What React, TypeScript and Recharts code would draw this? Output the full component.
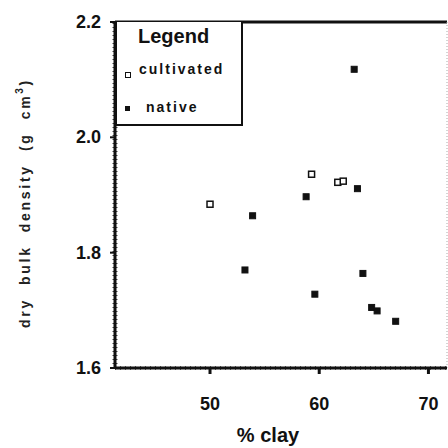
import { ScatterChart, Scatter, XAxis, YAxis, ReferenceLine } from "recharts";

const clayTicks = [50, 60, 70];
const densityTicks = [1.6, 1.8, 2.0, 2.2];

const cultivatedClay = [59.3, 61.7, 62.2, 50.0];
const cultivatedDensity = [1.936, 1.922, 1.924, 1.884];

const nativeClay = [63.2, 63.5, 58.8, 53.9, 53.2, 64.0, 59.6, 64.8, 65.3, 67.0];
const nativeDensity = [2.118, 1.911, 1.897, 1.864, 1.77, 1.764, 1.728, 1.705, 1.699, 1.681];

const cultivated = cultivatedClay.map((c, i) => ({ clay: c, density: cultivatedDensity[i] }));
const native = nativeClay.map((c, i) => ({ clay: c, density: nativeDensity[i] }));

const font = "'Liberation Sans', Arial, sans-serif";

const OpenSquare = (p: any) => (
  <rect x={p.cx - 3} y={p.cy - 3} width={6} height={6} fill="#fff" stroke="#111" strokeWidth={1.5} />
);
const FilledSquare = (p: any) => (
  <rect x={p.cx - 3} y={p.cy - 3} width={6} height={6} fill="#111" stroke="#111" strokeWidth={1} />
);

const XTick = (p: any) => (
  <text x={p.x} y={p.y + 34} textAnchor="middle" fontFamily={font} fontWeight="bold" fontSize={18} fill="#111">
    {p.payload.value}
  </text>
);
const YTick = (p: any) => (
  <text x={101} y={p.y + 6} textAnchor="end" fontFamily={font} fontWeight="bold" fontSize={18} fill="#111">
    {p.payload.value.toFixed(1)}
  </text>
);

// axis title reads bottom to top, widely spaced like the scan
const YLabel = () => (
  <text
    transform="translate(30,203) rotate(-90)"
    textAnchor="middle"
    fontFamily={font}
    fontWeight="bold"
    fontSize={14}
    letterSpacing={2.7}
    fill="#222"
    style={{ whiteSpace: "pre" }}
  >
    {"dry  bulk  density  (g  cm"}
    <tspan fontSize={10} dy={-7}>3</tspan>
    <tspan dy={7}>)</tspan>
  </text>
);

export default function App() {
  return (
    <div style={{ position: "absolute", left: 0, top: 0, width: 448, height: 448, background: "#fff" }}>
      <ScatterChart width={448} height={448} margin={{ top: 22, right: 1, bottom: 0, left: 0 }}>
        <XAxis
          type="number"
          dataKey="clay"
          domain={[41.3, 71.7]}
          ticks={clayTicks}
          height={80}
          axisLine={{ stroke: "#111", strokeWidth: 3 }}
          tickLine={{ stroke: "#111", strokeWidth: 3 }}
          tickSize={6}
          tick={<XTick />}
          label={{ value: "% clay", position: "insideBottom", offset: 6, fontFamily: font, fontWeight: "bold", fontSize: 20, fill: "#111", dx: -13 }}
        />
        <YAxis
          type="number"
          dataKey="density"
          domain={[1.6, 2.2]}
          ticks={densityTicks}
          width={115}
          axisLine={{ stroke: "#111", strokeWidth: 3 }}
          tickLine={{ stroke: "#111", strokeWidth: 2 }}
          tickSize={5}
          tick={<YTick />}
          label={{ content: () => <YLabel /> }}
        />
        <ReferenceLine x={41.3} stroke="#444" strokeWidth={5} strokeDasharray="1 3" />
        <ReferenceLine y={1.6} stroke="#666" strokeWidth={4} strokeDasharray="1 4" />
        <ReferenceLine y={2.2} stroke="#111" strokeWidth={3} />
        <ReferenceLine x={71.7} stroke="#aaa" strokeWidth={1} strokeDasharray="1 2" />
        <Scatter name="cultivated" data={cultivated} shape={<OpenSquare />} isAnimationActive={false} />
        <Scatter name="native" data={native} shape={<FilledSquare />} isAnimationActive={false} />
      </ScatterChart>
      <div
        style={{
          position: "absolute",
          left: 115,
          top: 22,
          width: 124,
          height: 102,
          border: "2px solid #111",
          borderTop: "none",
          background: "#fff",
          fontFamily: font,
          fontWeight: "bold",
          color: "#111",
        }}
      >
        <div style={{ position: "absolute", left: 21, top: 3, fontSize: 20 }}>Legend</div>
        <div style={{ position: "absolute", left: 8, top: 50, width: 4, height: 4, border: "1px solid #111" }} />
        <div style={{ position: "absolute", left: 22, top: 39, fontSize: 14, letterSpacing: 2 }}>cultivated</div>
        <div style={{ position: "absolute", left: 8, top: 84, width: 5, height: 5, background: "#111" }} />
        <div style={{ position: "absolute", left: 29, top: 77, fontSize: 14, letterSpacing: 2 }}>native</div>
      </div>
    </div>
  );
}
